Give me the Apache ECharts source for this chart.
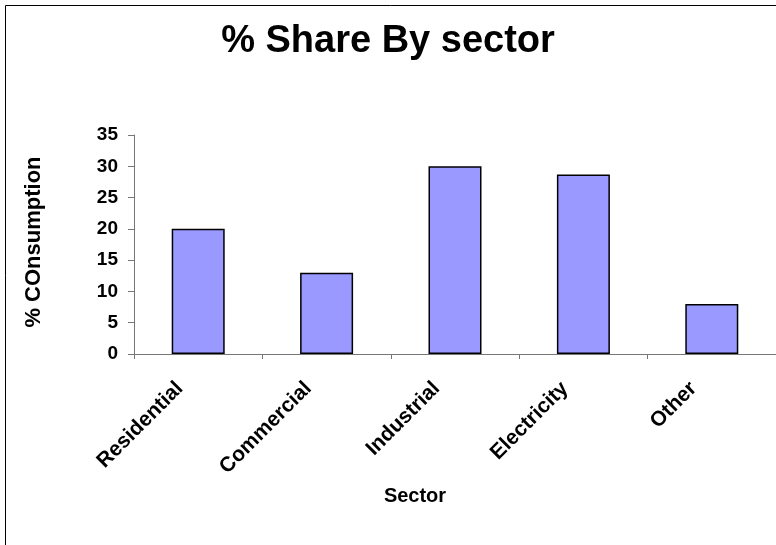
<!DOCTYPE html>
<html>
<head>
<meta charset="utf-8">
<script src="https://cdn.jsdelivr.net/npm/echarts@6/dist/echarts.min.js"></script>
<style>
  html, body { margin: 0; padding: 0; background: #fff; }
  #chartMain { width: 776px; height: 545px; }
</style>
</head>
<body>
<div id="chartMain"></div>
<script>
// data
var sectors = ['Residential', 'Commercial', 'Industrial', 'Electricity', 'Other'];
var shareValues = [20, 13, 30, 28.7, 8];
var yTicks = [0, 5, 10, 15, 20, 25, 30, 35];

var chartMain = document.getElementById('chartMain');
var mychart = echarts.init(chartMain);

var option = {
    backgroundColor: '#ffffff',
    animation: false,
    textStyle: { fontFamily: 'Arial, "Liberation Sans", sans-serif' },
    title: {
        text: '% Share By sector',
        left: 'center',
        top: 18,
        textStyle: { fontSize: 38, fontWeight: 'bold', color: '#000' }
    },
    // outer frame, only left and top edges are inside the picture
    graphic: [
        { type: 'line', shape: { x1: 5.5, y1: 5.5, x2: 5.5, y2: 545 }, style: { stroke: '#000', lineWidth: 1 } },
        { type: 'line', shape: { x1: 5.5, y1: 5.5, x2: 776, y2: 5.5 }, style: { stroke: '#000', lineWidth: 1 } }
    ],
    grid: {
        left: 134,
        top: 135,
        width: 652,
        height: 219,
        containLabel: false
    },
    xAxis: {
        type: 'category',
        data: sectors,
        name: 'Sector',
        nameLocation: 'middle',
        nameGap: 132,
        nameTextStyle: { fontSize: 20, fontWeight: 'bold', color: '#000', padding: [0, 80, 0, 0] },
        axisLine: { show: true, lineStyle: { color: '#777', width: 1 } },
        axisTick: { show: true, length: 5, lineStyle: { color: '#777' } },
        axisLabel: { rotate: 45, margin: 13, padding: [0, 26, 0, 0], fontSize: 21, fontWeight: 'bold', color: '#000', interval: 0 }
    },
    yAxis: {
        type: 'value',
        min: yTicks[0],
        max: yTicks[yTicks.length - 1],
        interval: yTicks[1] - yTicks[0],
        name: '% COnsumption',
        nameLocation: 'middle',
        nameGap: 89,
        nameTextStyle: { fontSize: 22, fontWeight: 'bold', color: '#000', padding: [0, 0, 0, 5] },
        axisLine: { show: true, lineStyle: { color: '#777', width: 1 } },
        axisTick: { show: true, length: 6, lineStyle: { color: '#777' } },
        axisLabel: { margin: 16, fontSize: 19, fontWeight: 'bold', color: '#000' },
        splitLine: { show: false }
    },
    series: [
        {
            name: '% Share',
            type: 'bar',
            data: shareValues,
            barWidth: 53,
            itemStyle: { color: '#9999ff', borderColor: '#000', borderWidth: 1.5 }
        }
    ]
};

mychart.setOption(option);
</script>
</body>
</html>
